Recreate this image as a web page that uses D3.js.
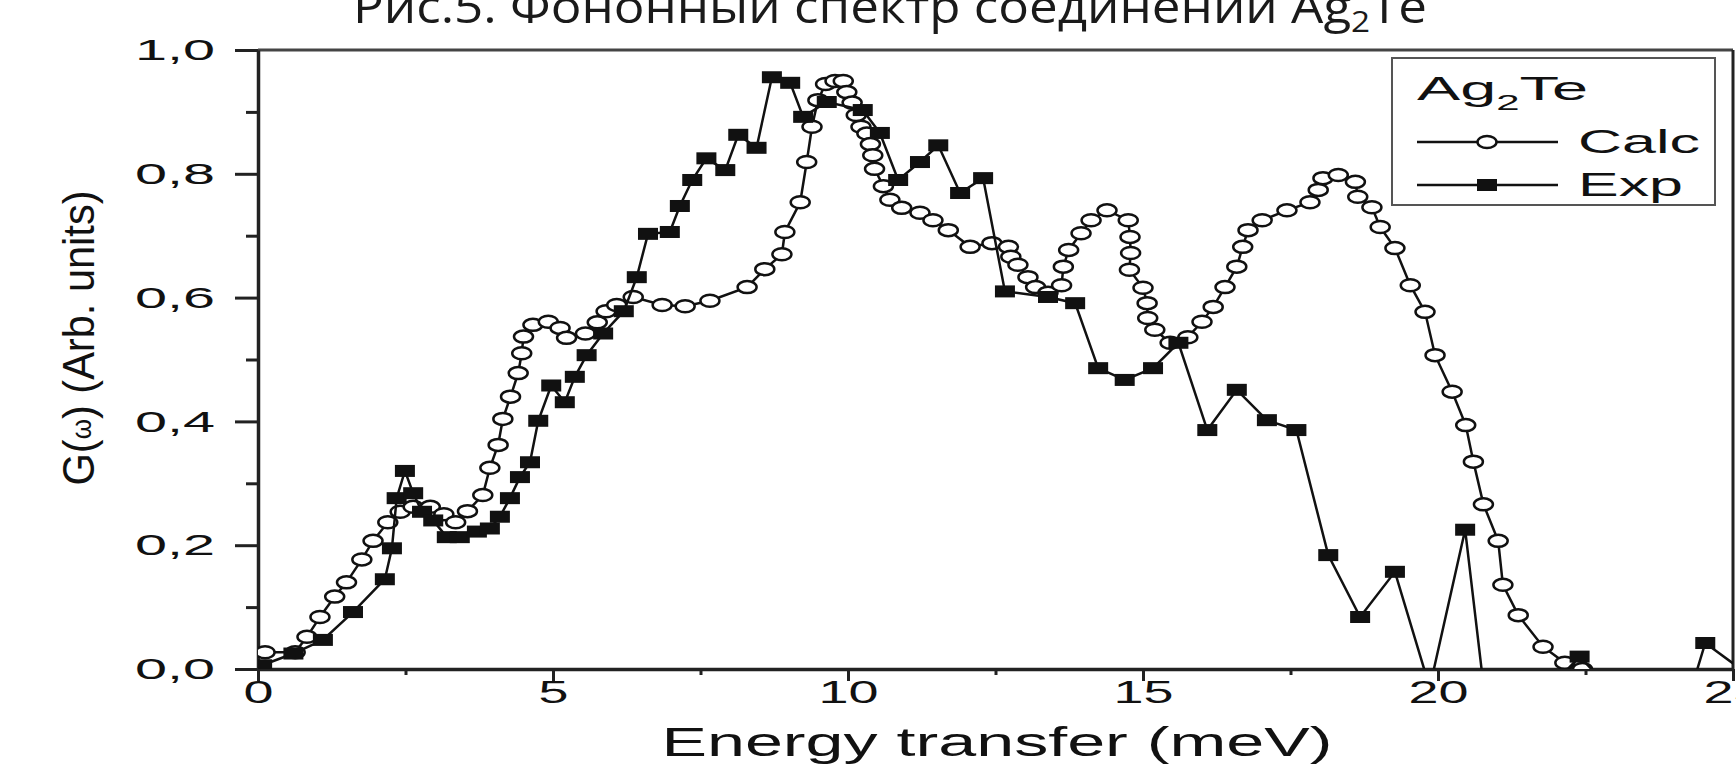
<!DOCTYPE html>
<html>
<head>
<meta charset="utf-8">
<script src="https://cdn.jsdelivr.net/npm/d3@7"></script>
<style>
  body { margin: 0; background: #fff; overflow: hidden; }
  svg { display: block; }
</style>
</head>
<body>
<svg id="chart"></svg>
<script>
// Calc curve (open circles)
var calcX = [0.12,0.63,0.83,1.05,1.3,1.5,1.76,1.95,2.2,2.41,2.63,2.92,3.15,3.35,3.55,3.81,3.93,4.07,4.15,4.28,4.41,4.47,4.5,4.66,4.92,5.12,5.23,5.55,5.75,5.9,6.08,6.36,6.85,7.24,7.66,8.29,8.59,8.88,8.93,9.19,9.3,9.39,9.49,9.62,9.78,9.92,9.98,10.07,10.14,10.22,10.32,10.38,10.42,10.45,10.6,10.71,10.91,11.22,11.44,11.7,12.07,12.44,12.72,12.76,12.88,13.05,13.18,13.39,13.62,13.65,13.74,13.95,14.12,14.39,14.75,14.78,14.79,14.77,15.0,15.07,15.08,15.2,15.46,15.76,16.0,16.19,16.39,16.59,16.69,16.78,17.02,17.44,17.83,17.97,18.05,18.31,18.6,18.64,18.88,19.02,19.27,19.53,19.78,19.95,20.24,20.47,20.6,20.77,21.02,21.1,21.36,21.78,22.15,22.45];
var calcY = [0.027,0.027,0.052,0.084,0.117,0.14,0.177,0.207,0.237,0.254,0.262,0.262,0.25,0.237,0.255,0.281,0.325,0.362,0.404,0.44,0.478,0.51,0.537,0.556,0.561,0.551,0.535,0.542,0.56,0.578,0.588,0.601,0.588,0.586,0.595,0.617,0.646,0.67,0.706,0.754,0.819,0.876,0.919,0.945,0.95,0.95,0.932,0.915,0.895,0.876,0.865,0.848,0.83,0.808,0.78,0.758,0.745,0.737,0.725,0.709,0.682,0.688,0.682,0.666,0.653,0.633,0.617,0.608,0.62,0.65,0.677,0.704,0.725,0.741,0.725,0.698,0.672,0.645,0.616,0.591,0.567,0.548,0.527,0.536,0.561,0.585,0.617,0.65,0.682,0.709,0.725,0.741,0.754,0.774,0.793,0.798,0.787,0.763,0.746,0.714,0.68,0.62,0.577,0.507,0.448,0.394,0.335,0.266,0.207,0.136,0.087,0.036,0.01,0.0];

// Exp curve (filled squares)
var expX = [0.07,0.6,1.1,1.61,2.15,2.27,2.35,2.49,2.63,2.78,2.97,3.2,3.42,3.71,3.93,4.1,4.27,4.44,4.61,4.75,4.97,5.2,5.37,5.57,5.85,6.2,6.42,6.61,6.98,7.15,7.36,7.6,7.92,8.14,8.45,8.71,9.02,9.24,9.64,10.25,10.54,10.85,11.22,11.53,11.9,12.29,12.66,13.39,13.85,14.24,14.69,15.17,15.6,16.09,16.59,17.1,17.6,18.14,18.68,19.27,19.86,20.46,20.8,21.9,22.4,22.8,24.3,24.53,25.3];
var expY = [0.006,0.025,0.047,0.092,0.145,0.195,0.276,0.32,0.284,0.254,0.24,0.213,0.213,0.222,0.227,0.246,0.276,0.31,0.334,0.401,0.458,0.431,0.472,0.507,0.542,0.578,0.633,0.703,0.706,0.748,0.79,0.825,0.806,0.863,0.842,0.956,0.947,0.892,0.916,0.903,0.866,0.79,0.819,0.846,0.769,0.793,0.61,0.601,0.591,0.486,0.467,0.486,0.527,0.386,0.451,0.402,0.386,0.184,0.084,0.157,-0.03,0.225,-0.05,-0.03,0.02,-0.02,-0.03,0.042,-0.012];

var xMajor = [0, 5, 10, 15, 20, 25];
var xMinor = [2.5, 7.5, 12.5, 17.5, 22.5];
var yMajor = [0, 0.2, 0.4, 0.6, 0.8, 1.0];
var yMinor = [0.1, 0.3, 0.5, 0.7, 0.9];

var width = 1736, height = 782;
var margin = {top: 50, left: 258, right: 3, bottom: 113};

var svg = d3.select("#chart")
	.attr("width", width)
	.attr("height", height)
	.style("font-family", "'Liberation Sans', Arial, sans-serif");

var x = d3.scaleLinear()
	.domain([0, 25])
	.range([margin.left, width - margin.right]);
var y = d3.scaleLinear()
	.domain([0, 1])
	.range([height - margin.bottom, margin.top]);

var commaFmt = function(d){ return d3.format(".1f")(d).replace(".", ","); };

// title, partly cut off at the top like the scan
var title = svg.append("text")
	.attr("x", 890)
	.attr("y", 23)
	.attr("text-anchor", "middle")
	.attr("font-family", "'Open Sans', 'Noto Sans', sans-serif")
	.attr("font-size", 46)
	.attr("fill", "#1a1a1a")
	.attr("textLength", 1074)
	.attr("lengthAdjust", "spacingAndGlyphs");
title.append("tspan").text("Рис.5. Фононный спектр соединений Ag");
title.append("tspan").attr("dy", 9).attr("font-size", 30).text("2");
title.append("tspan").attr("dy", -9).text("Te");

// clip for the series
svg.append("clipPath").attr("id", "plotclip")
	.append("rect")
	.attr("x", x(0)).attr("y", y(1))
	.attr("width", x(25) - x(0)).attr("height", y(0) - y(1));

// frame top / right
svg.append("line")
	.attr("x1", x(0)).attr("x2", x(25))
	.attr("y1", y(1)).attr("y2", y(1))
	.attr("stroke", "#444").attr("stroke-width", 3);
svg.append("line")
	.attr("x1", x(25)).attr("x2", x(25))
	.attr("y1", y(1)).attr("y2", y(0))
	.attr("stroke", "#222").attr("stroke-width", 3);

// X axis
var gx = svg.append("g")
	.attr("transform", "translate(0," + y(0) + ")")
	.call(d3.axisBottom(x).tickValues(xMajor).tickSize(12).tickSizeOuter(0).tickPadding(0).tickFormat(d3.format("d")));
svg.append("g")
	.attr("transform", "translate(0," + y(0) + ")")
	.call(d3.axisBottom(x).tickValues(xMinor).tickSize(6).tickSizeOuter(0).tickFormat(""))
	.select(".domain").remove();

gx.selectAll("text")
	.attr("font-size", 31)
	.attr("fill", "#111")
	.attr("textLength", function(d){ return String(d).length * 30; })
	.attr("lengthAdjust", "spacingAndGlyphs");

// Y axis
var gy = svg.append("g")
	.attr("transform", "translate(" + x(0) + ",0)")
	.call(d3.axisLeft(y).tickValues(yMajor).tickSize(23).tickSizeOuter(0).tickPadding(20).tickFormat(commaFmt));
svg.append("g")
	.attr("transform", "translate(" + x(0) + ",0)")
	.call(d3.axisLeft(y).tickValues(yMinor).tickSize(12).tickSizeOuter(0).tickFormat(""))
	.select(".domain").remove();

gy.selectAll("text")
	.attr("font-size", 30)
	.attr("fill", "#111")
	.attr("textLength", 80)
	.attr("lengthAdjust", "spacingAndGlyphs");

svg.selectAll(".domain").attr("stroke", "#222").attr("stroke-width", 3.5);
svg.selectAll(".tick line").attr("stroke", "#222").attr("stroke-width", 3);

// axis titles
svg.append("text")
	.attr("x", 997)
	.attr("y", 756)
	.attr("text-anchor", "middle")
	.attr("font-size", 40)
	.attr("fill", "#111")
	.attr("textLength", 671)
	.attr("lengthAdjust", "spacingAndGlyphs")
	.text("Energy transfer (meV)");

var ytitle = svg.append("text")
	.attr("transform", "translate(94,338) scale(1.4,1) rotate(-90)")
	.attr("text-anchor", "middle")
	.attr("font-size", 32)
	.attr("fill", "#111")
	.attr("textLength", 295)
	.attr("lengthAdjust", "spacingAndGlyphs");
ytitle.append("tspan").text("G(");
ytitle.append("tspan").attr("font-size", 20).attr("dy", -2).text("ω");
ytitle.append("tspan").attr("dy", 2).text(") (Arb. units)");

// series
var calc = calcX.map(function(d, i){ return {x: d, y: calcY[i]}; });
var exp = expX.map(function(d, i){ return {x: d, y: expY[i]}; });

var line = d3.line()
	.x(function(d){ return x(d.x); })
	.y(function(d){ return y(d.y); });

var plot = svg.append("g").attr("clip-path", "url(#plotclip)");

plot.append("path")
	.datum(calc)
	.attr("d", line)
	.attr("fill", "none")
	.attr("stroke", "#111")
	.attr("stroke-width", 2.5);
plot.selectAll(".calc")
	.data(calc)
	.enter()
	.append("ellipse")
	.attr("class", "calc")
	.attr("cx", function(d){ return x(d.x); })
	.attr("cy", function(d){ return y(d.y); })
	.attr("rx", 9.5)
	.attr("ry", 6)
	.attr("fill", "#fff")
	.attr("stroke", "#111")
	.attr("stroke-width", 2.5);

plot.append("path")
	.datum(exp)
	.attr("d", line)
	.attr("fill", "none")
	.attr("stroke", "#111")
	.attr("stroke-width", 2.5);
plot.selectAll(".exp")
	.data(exp)
	.enter()
	.append("rect")
	.attr("class", "exp")
	.attr("x", function(d){ return x(d.x) - 10; })
	.attr("y", function(d){ return y(d.y) - 6; })
	.attr("width", 20)
	.attr("height", 12)
	.attr("fill", "#111");

// legend
var lg = svg.append("g");
lg.append("rect")
	.attr("x", 1392).attr("y", 58)
	.attr("width", 323).attr("height", 147)
	.attr("fill", "#fff")
	.attr("stroke", "#555")
	.attr("stroke-width", 2);

var lt = lg.append("text")
	.attr("x", 1417).attr("y", 100)
	.attr("font-size", 34)
	.attr("fill", "#111")
	.attr("textLength", 171)
	.attr("lengthAdjust", "spacingAndGlyphs");
lt.append("tspan").text("Ag");
lt.append("tspan").attr("dy", 10).attr("font-size", 22).text("2");
lt.append("tspan").attr("dy", -10).text("Te");

var legendItems = [
	{name: "Calc", y: 142, w: 122},
	{name: "Exp", y: 185, w: 105}
];
legendItems.forEach(function(it){
	lg.append("line")
		.attr("x1", 1417).attr("x2", 1558)
		.attr("y1", it.y).attr("y2", it.y)
		.attr("stroke", "#111").attr("stroke-width", 2.5);
	lg.append("text")
		.attr("x", 1578).attr("y", it.y + 11)
		.attr("font-size", 34)
		.attr("fill", "#111")
		.attr("textLength", it.w)
		.attr("lengthAdjust", "spacingAndGlyphs")
		.text(it.name);
});
lg.append("ellipse")
	.attr("cx", 1487).attr("cy", 142)
	.attr("rx", 9.5).attr("ry", 6)
	.attr("fill", "#fff").attr("stroke", "#111").attr("stroke-width", 2.5);
lg.append("rect")
	.attr("x", 1477).attr("y", 179)
	.attr("width", 20).attr("height", 12)
	.attr("fill", "#111");
</script>
</body>
</html>
